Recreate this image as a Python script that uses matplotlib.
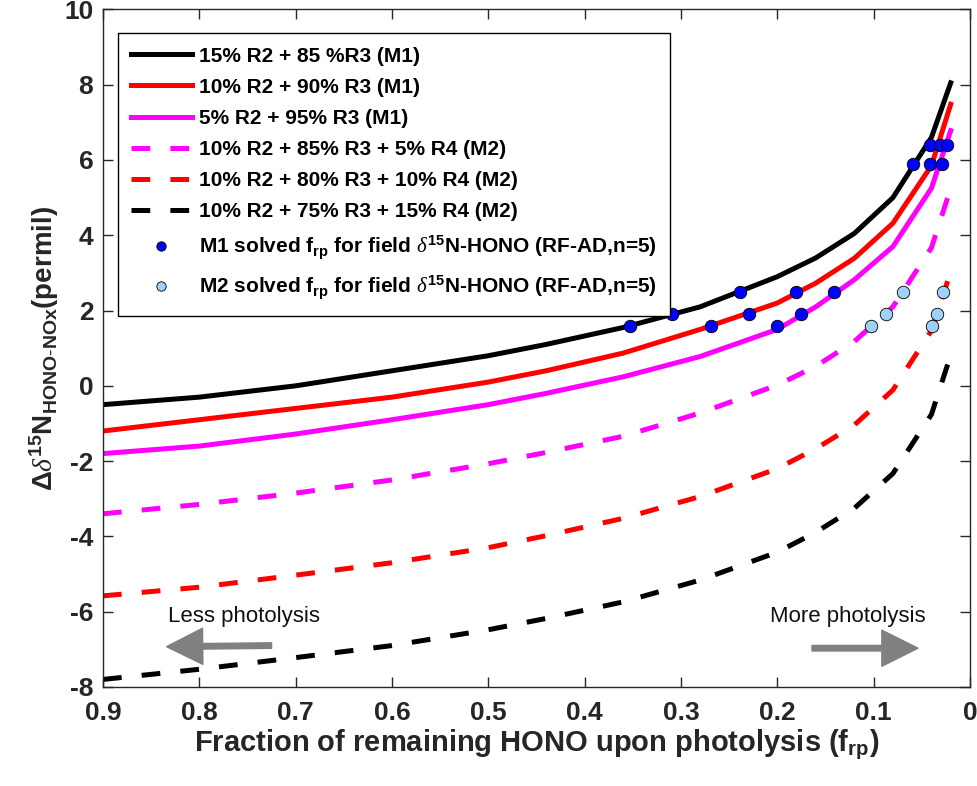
import matplotlib
matplotlib.use("Agg")
import matplotlib.pyplot as plt

plt.rcParams['font.family'] = ['Liberation Sans', 'DejaVu Sans']
plt.rcParams['mathtext.fontset'] = 'custom'
plt.rcParams['mathtext.rm'] = 'Liberation Sans'
plt.rcParams['mathtext.bf'] = 'Liberation Sans:bold'
plt.rcParams['mathtext.it'] = 'Liberation Serif:italic'
plt.rcParams['mathtext.default'] = 'bf'
plt.rcParams['lines.scale_dashes'] = False
plt.rcParams['axes.unicode_minus'] = False

# fraction of remaining HONO (x) and curves
f_rp = [0.9, 0.8, 0.7, 0.6, 0.5, 0.44, 0.36, 0.28, 0.2, 0.16, 0.12, 0.08, 0.04, 0.02]

m1_15 = [-0.5, -0.3, 0.0, 0.4, 0.8, 1.1, 1.55, 2.1, 2.9, 3.4, 4.05, 5.0, 6.6, 8.05]
m1_10 = [-1.2, -0.9, -0.6, -0.3, 0.1, 0.4, 0.87, 1.5, 2.2, 2.73, 3.39, 4.32, 5.85, 7.48]
m1_05 = [-1.8, -1.6, -1.28, -0.9, -0.5, -0.2, 0.24, 0.78, 1.5, 2.1, 2.82, 3.7, 5.25, 6.78]
m2_05 = [-3.4, -3.15, -2.85, -2.5, -2.07, -1.77, -1.34, -0.72, 0.02, 0.52, 1.18, 2.1, 3.67, 5.25]
m2_10 = [-5.58, -5.35, -5.03, -4.7, -4.3, -3.98, -3.52, -2.94, -2.2, -1.67, -1.04, -0.11, 1.47, 3.03]
m2_15 = [-7.8, -7.53, -7.22, -6.9, -6.48, -6.18, -5.74, -5.16, -4.42, -3.89, -3.25, -2.33, -0.76, 0.82]

# solved points (field delta values)
m1_f = [0.0415, 0.059, 0.239, 0.309, 0.353,
        0.031, 0.041, 0.181, 0.229, 0.269,
        0.024, 0.029, 0.141, 0.175, 0.2]
m1_d = [6.4, 5.9, 2.5, 1.9, 1.6,
        6.4, 5.9, 2.5, 1.9, 1.6,
        6.4, 5.9, 2.5, 1.9, 1.6]
m2_f = [0.070, 0.087, 0.103, 0.028, 0.034, 0.039]
m2_d = [2.5, 1.9, 1.6, 2.5, 1.9, 1.6]

labels = ['15% R2 + 85 %R3 (M1)', '10% R2 + 90% R3 (M1)', '5% R2 + 95% R3 (M1)',
          '10% R2 + 85% R3 + 5% R4 (M2)', '10% R2 + 80% R3 + 10% R4 (M2)',
          '10% R2 + 75% R3 + 15% R4 (M2)']

fig = plt.figure(figsize=(9.78, 7.86), dpi=100)
ax = fig.add_axes([0.1053, 0.126, 0.8865, 0.862])

lw = 3.6
dash = (13.5, 14.5)
ax.plot(f_rp, m1_15, color='black', lw=lw, label=labels[0])
ax.plot(f_rp, m1_10, color='red', lw=lw, label=labels[1])
ax.plot(f_rp, m1_05, color='magenta', lw=lw, label=labels[2])
ax.plot(f_rp, m2_05, color='magenta', lw=lw, dashes=dash, label=labels[3])
ax.plot(f_rp, m2_10, color='red', lw=lw, dashes=dash, label=labels[4])
ax.plot(f_rp, m2_15, color='black', lw=lw, dashes=dash, label=labels[5])

ax.plot(m1_f, m1_d, 'o', ms=9, mfc='blue', mec='black', mew=0.6, ls='none',
        label=r'M1 solved f$_{rp}$ for field $\mathit{\delta}^{15}$N-HONO (RF-AD,n=5)')
ax.plot(m2_f, m2_d, 'o', ms=9, mfc='#9fd0f5', mec='black', mew=0.6, ls='none',
        label=r'M2 solved f$_{rp}$ for field $\mathit{\delta}^{15}$N-HONO (RF-AD,n=5)')

# photolysis arrows
ax.annotate('', xy=(0.834, -6.93), xytext=(0.725, -6.9),
            arrowprops=dict(facecolor='#808080', edgecolor='#808080', width=4,
                            headwidth=26, headlength=26))
ax.annotate('', xy=(0.054, -6.97), xytext=(0.164, -6.97),
            arrowprops=dict(facecolor='#808080', edgecolor='#808080', width=4,
                            headwidth=26, headlength=26))
ax.text(0.833, -6.4, 'Less photolysis', fontsize=16, color='#111111', ha='left', va='bottom')
ax.text(0.208, -6.4, 'More photolysis', fontsize=16, color='#111111', ha='left', va='bottom')

ax.set_xlim(0.9, 0)
ax.set_ylim(-8, 10)
ax.set_xticks([0.9, 0.8, 0.7, 0.6, 0.5, 0.4, 0.3, 0.2, 0.1, 0])
ax.set_xticklabels(['0.9', '0.8', '0.7', '0.6', '0.5', '0.4', '0.3', '0.2', '0.1', '0'])
ax.set_yticks(range(-8, 11, 2))
ax.tick_params(direction='in', length=7, width=1, top=True, right=True,
               labelsize=19, colors='#262626')
ax.tick_params(axis='x', pad=10)
ax.tick_params(axis='y', pad=7)
for lab in ax.get_xticklabels() + ax.get_yticklabels():
    lab.set_fontweight('bold')
for sp in ax.spines.values():
    sp.set_color('#262626')
    sp.set_linewidth(1)

ax.set_xlabel(r'Fraction of remaining HONO upon photolysis (f$_{rp}$)',
              fontsize=21, fontweight='bold', color='#262626', labelpad=2)
ax.set_ylabel(r'$\Delta\mathit{\delta}^{15}$N$_{HONO\text{-}NOx}$(permil)',
              fontsize=20, fontweight='bold', color='#262626', labelpad=2)

leg = ax.legend(loc='upper left', bbox_to_anchor=(0.017, 0.965), borderaxespad=0,
                handlelength=2.9, handletextpad=0.35, labelspacing=0.58, borderpad=0.65,
                fancybox=False, framealpha=1, edgecolor='black', markerscale=0.75,
                prop={'weight': 'bold', 'size': 15})
leg.get_frame().set_linewidth(1)

fig.savefig('out.png', dpi=100)
